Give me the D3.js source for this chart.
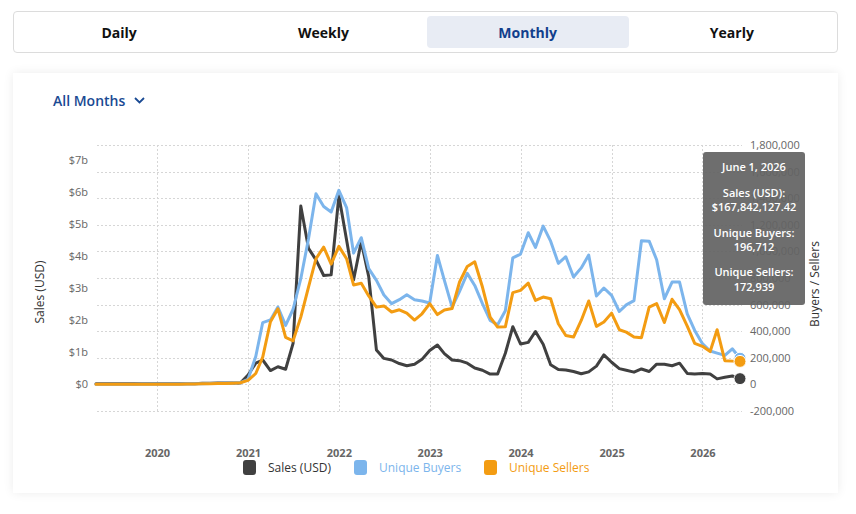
<!DOCTYPE html>
<html lang="en">
<head>
    <meta charset="UTF-8">
    <title>Monthly Sales, Buyers and Sellers</title>
    <script src="https://cdnjs.cloudflare.com/ajax/libs/d3/7.8.5/d3.min.js"></script>
    <style>
        body {
            margin: 0;
            width: 856px;
            height: 514px;
            background: #fff;
            font-family: 'Open Sans', 'Noto Sans', sans-serif;
            position: relative;
            overflow: hidden;
        }

        #tabs {
            position: absolute;
            left: 13px;
            top: 11px;
            width: 825px;
            height: 42px;
            border: 1px solid #dcdcdc;
            border-radius: 4px;
            display: flex;
            padding: 0 3px;
            box-sizing: border-box;
        }

        .tab {
            flex: 1;
            margin: 4px 1px;
            border-radius: 4px;
            display: flex;
            align-items: center;
            justify-content: center;
            font-size: 14px;
            font-weight: 700;
            color: #111;
        }

        .tab.active {
            background: #e8ecf4;
            color: #123f8c;
        }

        #card {
            position: absolute;
            left: 13px;
            top: 73px;
            width: 825px;
            height: 420px;
            background: #fff;
            box-shadow: 0 0 10px rgba(0,0,0,0.08);
        }

        #chart {
            position: absolute;
            left: 0;
            top: 0;
        }

        .grid line {
            stroke: #d6d6d6;
            stroke-dasharray: 2,2;
        }

        .tick-label {
            font-size: 11px;
            fill: #666;
        }
    </style>
</head>
<body>
    <div id="tabs">
        <div class="tab">Daily</div>
        <div class="tab">Weekly</div>
        <div class="tab active">Monthly</div>
        <div class="tab">Yearly</div>
    </div>
    <div id="card"></div>
    <svg id="chart" width="856" height="514"></svg>

    <script>
        // monthly points, May 2019 .. June 2026
        const firstMonth = new Date(2019, 4, 1);
        const lastMonth = new Date(2026, 5, 1);

        // sales in billions USD
        const salesUSD = [
            0.01, 0.01, 0.01, 0.01, 0.01, 0.01, 0.01, 0.01,
            0.01, 0.01, 0.01, 0.01, 0.01, 0.01, 0.02, 0.02, 0.03, 0.03, 0.03, 0.03,
            0.28, 0.65, 0.75, 0.42, 0.54, 0.46, 1.27, 5.56, 4.24, 3.88, 3.39, 3.41,
            5.88, 4.50, 3.25, 4.45, 3.35, 1.06, 0.80, 0.75, 0.64, 0.57, 0.62, 0.77,
            1.05, 1.22, 0.95, 0.75, 0.73, 0.65, 0.50, 0.43, 0.31, 0.31, 0.96, 1.79,
            1.25, 1.30, 1.64, 1.24, 0.60, 0.45, 0.44, 0.39, 0.32, 0.38, 0.56, 0.91,
            0.68, 0.48, 0.43, 0.37, 0.47, 0.39, 0.62, 0.62, 0.57, 0.65, 0.33, 0.31,
            0.33, 0.31, 0.16, 0.21, 0.25, 0.167842127
        ];

        // unique buyers, thousands
        const uniqueBuyers = [
            2, 2, 2, 2, 2, 2, 3, 3,
            3, 3, 3, 3, 4, 4, 5, 6, 7, 8, 10, 14,
            38, 210, 465, 485, 581, 444, 565, 795, 1095, 1434, 1338, 1296,
            1459, 1330, 987, 1103, 870, 782, 672, 607, 637, 674, 637, 627,
            612, 970, 782, 581, 700, 835, 744, 607, 481, 449, 553, 952,
            980, 1140, 1030, 1190, 1077, 910, 960, 807, 876, 973, 665, 725,
            669, 548, 598, 630, 1080, 1077, 937, 644, 769, 769, 531, 406,
            306, 251, 235, 218, 268, 196.712
        ];

        // unique sellers, thousands
        const uniqueSellers = [
            1, 1, 1, 1, 1, 1, 2, 2,
            2, 2, 2, 2, 3, 3, 4, 5, 6, 7, 9, 12,
            30, 82, 205, 471, 569, 353, 328, 506, 732, 945, 1032, 905,
            1038, 945, 748, 760, 665, 581, 590, 544, 561, 536, 484, 531,
            607, 525, 560, 570, 770, 887, 922, 732, 506, 431, 433, 690,
            707, 762, 632, 657, 644, 456, 368, 356, 481, 627, 436, 469,
            536, 411, 393, 356, 351, 581, 607, 465, 640, 562, 438, 308,
            286, 247, 411, 178, 175, 172.939
        ];

        const salesTicks = [0, 1, 2, 3, 4, 5, 6, 7];
        const countTicks = [-200, 0, 200, 400, 600, 800, 1000, 1200, 1400, 1600, 1800];
        const seriesNames = ['Sales (USD)', 'Unique Buyers', 'Unique Sellers'];
        const colors = ['#404040', '#7cb5ec', '#f39c12'];
        const tooltipLines = ['June 1, 2026', 'Sales (USD):', '$167,842,127.42',
                              'Unique Buyers:', '196,712', 'Unique Sellers:', '172,939'];

        const months = d3.timeMonth.range(firstMonth, d3.timeMonth.offset(lastMonth, 1));
        const svg = d3.select('#chart');

        const plot = { left: 97, right: 742, top: 145, bottom: 411 };

        const x = d3.scaleTime()
            .domain([firstMonth, lastMonth])
            .range([96, 740]);
        const ySales = d3.scaleLinear()
            .domain([0, 7])
            .range([384, 160]);
        const yCount = d3.scaleLinear()
            .domain([-200, 1800])
            .range([plot.bottom, plot.top]);

        // grid
        const grid = svg.append('g').attr('class', 'grid');
        grid.selectAll('.h').data(countTicks).join('line')
            .attr('x1', plot.left).attr('x2', plot.right)
            .attr('y1', d => Math.round(yCount(d)) + 0.5)
            .attr('y2', d => Math.round(yCount(d)) + 0.5);
        grid.selectAll('.v').data(x.ticks(d3.timeYear)).join('line')
            .attr('x1', d => Math.round(x(d)) + 0.5)
            .attr('x2', d => Math.round(x(d)) + 0.5)
            .attr('y1', plot.top).attr('y2', plot.bottom + 2);

        // axes
        const leftAxis = svg.append('g')
            .attr('transform', `translate(${plot.left},0)`)
            .call(d3.axisLeft(ySales).tickValues(salesTicks).tickSize(0).tickPadding(9)
                .tickFormat(d => d === 0 ? '$0' : `$${d}b`));
        const rightAxis = svg.append('g')
            .attr('transform', `translate(${plot.right},0)`)
            .call(d3.axisRight(yCount).tickValues(countTicks).tickSize(0).tickPadding(8)
                .tickFormat(d => (d < 0 ? '-' : '') + d3.format(',')(Math.abs(d) * 1000)));
        const bottomAxis = svg.append('g')
            .attr('transform', `translate(0,${plot.bottom})`)
            .call(d3.axisBottom(x).ticks(d3.timeYear).tickFormat(d3.timeFormat('%Y'))
                .tickSize(0).tickPadding(38));

        [leftAxis, rightAxis, bottomAxis].forEach(a => {
            a.select('.domain').remove();
            a.selectAll('text')
                .attr('class', 'tick-label')
                .style('font-family', "'Open Sans', sans-serif");
        });
        bottomAxis.selectAll('text').style('font-weight', 700).attr('fill', '#555');

        // axis titles
        svg.append('text')
            .attr('transform', 'translate(44,292) rotate(-90)')
            .attr('text-anchor', 'middle')
            .style('font-size', '12px').attr('fill', '#333')
            .text('Sales (USD)');
        svg.append('text')
            .attr('transform', 'translate(819,284) rotate(-90)')
            .attr('text-anchor', 'middle')
            .style('font-size', '12px').attr('fill', '#333')
            .text('Buyers / Sellers');

        // All Months selector
        svg.append('text')
            .attr('x', 53).attr('y', 106)
            .style('font-size', '14px').style('font-weight', 600)
            .attr('fill', '#1a4a93')
            .text('All Months');
        svg.append('path')
            .attr('d', 'M135,98 L139.5,102.5 L144,98')
            .attr('fill', 'none').attr('stroke', '#1a4a93').attr('stroke-width', 1.8);

        // lines
        const series = [
            { values: salesUSD, y: ySales },
            { values: uniqueBuyers, y: yCount },
            { values: uniqueSellers, y: yCount }
        ];
        series.forEach((s, i) => {
            const line = d3.line()
                .x((d, j) => x(months[j]))
                .y(d => s.y(d));
            svg.append('path')
                .datum(s.values)
                .attr('d', line)
                .attr('fill', 'none')
                .attr('stroke', colors[i])
                .attr('stroke-width', 3)
                .attr('stroke-linejoin', 'round')
                .attr('stroke-linecap', 'round');
        });

        // hover markers on the last month
        const last = months.length - 1;
        series.forEach((s, i) => {
            svg.append('circle')
                .attr('cx', x(months[last]))
                .attr('cy', s.y(s.values[last]))
                .attr('r', 6)
                .attr('fill', colors[i])
                .attr('stroke', '#fff')
                .attr('stroke-width', 1);
        });

        // tooltip (right axis labels show faintly through it)
        const tip = svg.append('g').attr('transform', 'translate(703,152)');
        tip.append('rect')
            .attr('width', 102).attr('height', 153).attr('rx', 3)
            .attr('fill', '#636363').attr('fill-opacity', 0.93);
        const tipY = [15, 41, 55, 81, 95, 120, 135];
        tip.selectAll('text').data(tooltipLines).join('text')
            .attr('x', 51)
            .attr('y', (d, i) => tipY[i])
            .attr('text-anchor', 'middle')
            .attr('dy', '0.35em')
            .attr('fill', '#fff')
            .style('font-size', '11px')
            .style('font-weight', 600)
            .text(d => d);

        // legend
        const legendX = [243, 354, 484];
        const legend = svg.append('g');
        seriesNames.forEach((name, i) => {
            legend.append('rect')
                .attr('x', legendX[i]).attr('y', 460)
                .attr('width', 13).attr('height', 15).attr('rx', 3)
                .attr('fill', colors[i]);
            legend.append('text')
                .attr('x', legendX[i] + 25).attr('y', 467.5)
                .attr('dy', '0.35em')
                .style('font-size', '12px')
                .attr('fill', i === 0 ? '#333' : colors[i])
                .text(name);
        });
    </script>
</body>
</html>
